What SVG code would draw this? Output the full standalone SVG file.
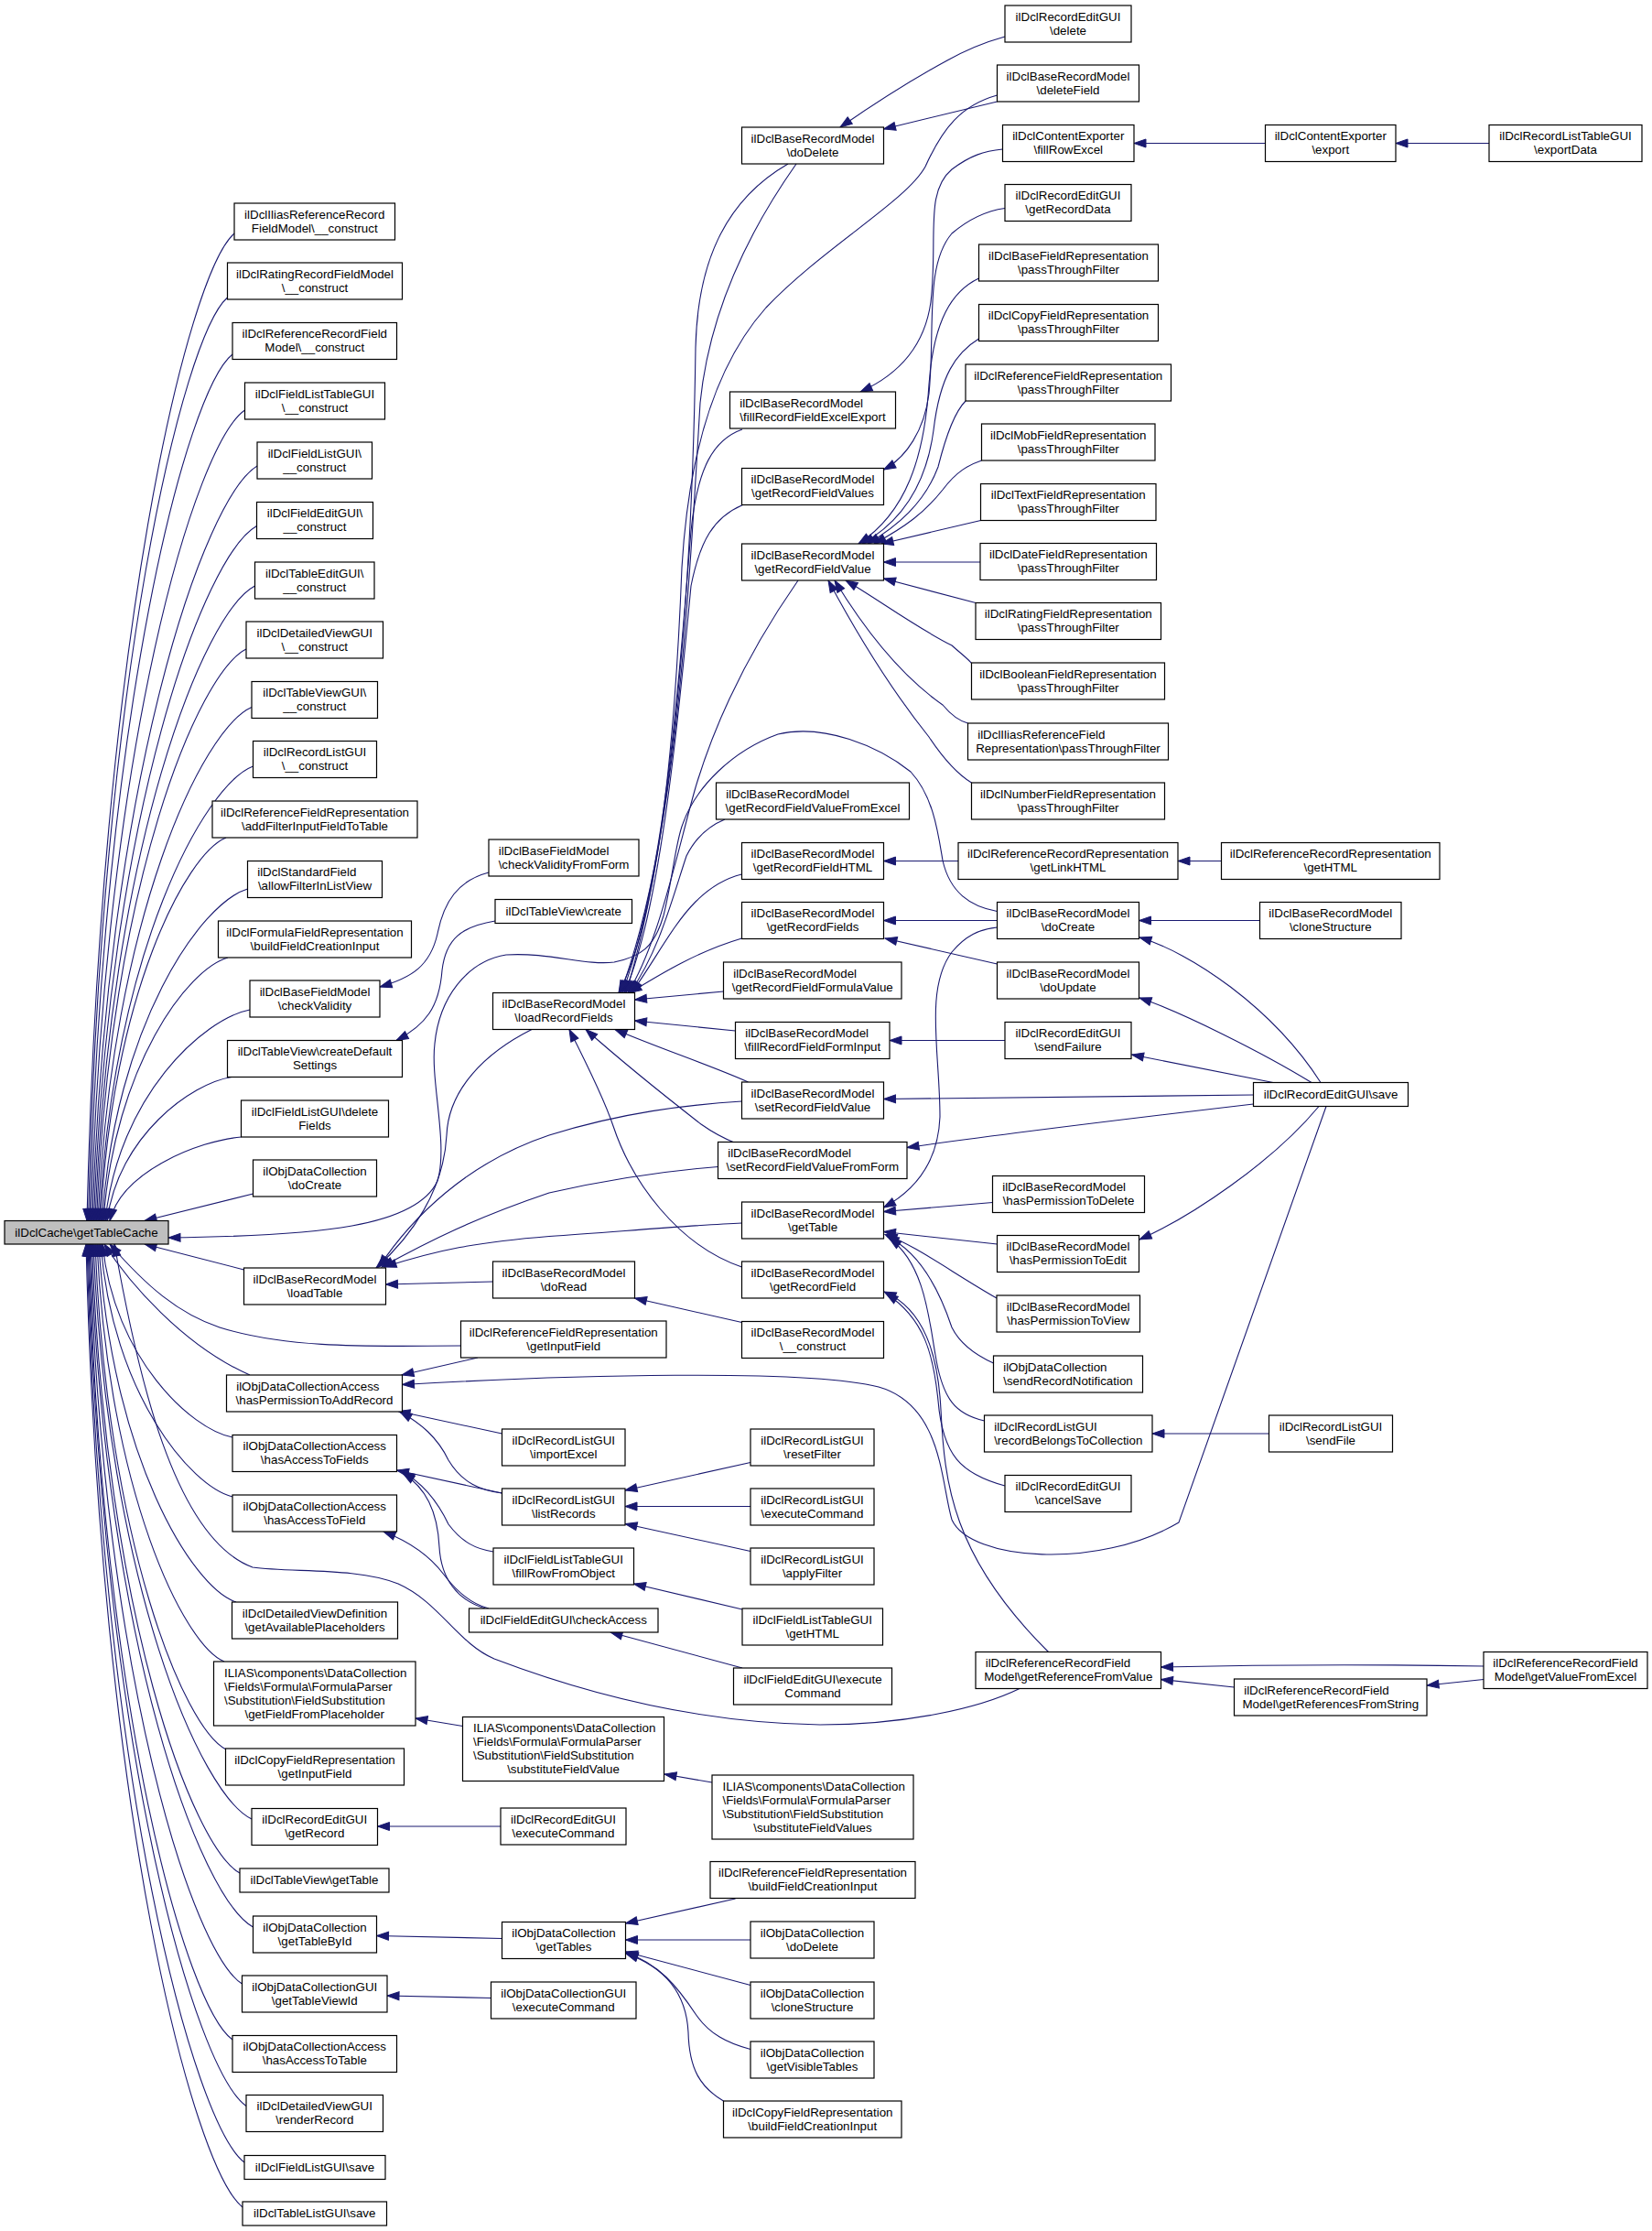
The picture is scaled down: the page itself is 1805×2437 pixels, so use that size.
<svg xmlns="http://www.w3.org/2000/svg" width="1805" height="2437" viewBox="0 0 1805 2437">
<style>
.n rect{fill:#fff;stroke:#000;stroke-width:1.2}
#root rect{fill:#bfbfbf}
text{font-family:"Liberation Sans",Arial,Helvetica,sans-serif;font-size:13.33px;fill:#000}
.m{text-anchor:middle}
.e path{fill:none;stroke:#191970;stroke-width:1.1;marker-start:url(#a)}
</style>
<defs>
<marker id="a" markerUnits="userSpaceOnUse" markerWidth="13" markerHeight="9" viewBox="0 0 13 9" refX="13" refY="4.5" orient="auto-start-reverse" overflow="visible"><path d="M0,0L13,4.5L0,9z" fill="#191970" stroke="#191970" stroke-width="1"/></marker>
</defs>
<rect width="1805" height="2437" fill="#fff"/>
<g id="edges" class="e">
<path d="M95,1333.5 C109.5,697.2 204.5,300.3 256,255"/>
<path d="M96.5,1333.5 C110.2,738.5 199.9,367.4 248.5,325"/>
<path d="M98,1333.5 C112,775.1 204.1,426.8 254,387"/>
<path d="M99.5,1333.5 C114.6,811.1 213.7,485.2 267.5,448"/>
<path d="M101,1333.5 C117.2,847 223.4,543.6 281,509"/>
<path d="M102.5,1333.5 C118.5,885.7 223.5,606.4 280.5,574.5"/>
<path d="M104,1333.5 C119.7,924.3 222.7,669.1 278.5,640"/>
<path d="M105.5,1333.5 C120.2,965 216.7,735.2 269,709"/>
<path d="M107,1333.5 C122.1,1002.5 221.2,796.1 275,772.5"/>
<path d="M108.5,1333.5 C123.6,1040.6 222.7,857.9 276.5,837"/>
<path d="M110,1333.5 C122.3,1086.6 203.2,932.6 247,915"/>
<path d="M111.5,1333.5 C125.8,1119.6 219.6,986.2 270.5,971"/>
<path d="M113,1333.5 C125.2,1163.9 205.5,1058.1 249,1046"/>
<path d="M115,1333.5 C129.2,1197.5 222.4,1112.7 273,1103"/>
<path d="M117,1333.5 C129.2,1240.9 209.5,1183.1 253,1176.5"/>
<path d="M120,1333.5 C132.9,1279.5 217.6,1245.8 263.5,1242"/>
<path d="M158,1333.5 L276.5,1304"/>
<path d="M158,1359 L266.5,1387"/>
<path d="M114,1359 C140,1400 200,1470 273,1502"/>
<path d="M120,1359 C160,1405 195,1435 240,1450 C320,1475 420,1470 503.5,1470"/>
<path d="M112,1359 C124.8,1483.7 208.6,1561.2 254,1570"/>
<path d="M110,1359 C123,1522.1 207.9,1623.4 254,1635"/>
<path d="M108,1359 C121.5,1590.5 210,1734.6 258,1750"/>
<path d="M106,1359 C118.5,1628.8 200.5,1796.8 245,1815"/>
<path d="M104,1359 C116.9,1684.9 201.2,1887.8 247,1911"/>
<path d="M102,1359 C117.6,1729.7 219.6,1960.6 275,1987"/>
<path d="M100.5,1359 C115,1764.5 210.3,2017.2 262,2046"/>
<path d="M99,1359 C115,1799.3 219.7,2073.7 276.5,2105"/>
<path d="M98,1359 C113,1835.9 211.2,2133.1 264.5,2167"/>
<path d="M97,1359 C111.1,1871.9 203.8,2191.5 254,2228"/>
<path d="M96,1359 C111.6,1914.7 213.6,2261 269,2300.5"/>
<path d="M95,1359 C110.5,1951 212,2319.9 267,2362"/>
<path d="M94,1359 C109.4,1979.9 210.3,2366.8 265,2411"/>
<path d="M125,1359 C150,1500 190,1680 276,1712 C320,1718 390,1712 435,1730 C480,1750 500,1795 540,1812 C640,1850 760,1882 896,1884 C990,1884 1070,1866 1114,1844.5"/>
<path d="M184,1352 C350,1350 455,1340 478,1290 C490,1250 470,1180 475,1140 C480,1090 510,1050 553,1043 C600,1040 640,1055 671,1051 C700,1045 715,1035 725,1000 C735,960 738,920 746,900 C760,860 800,820 850,802 C900,790 960,815 995,843 C1020,870 1025,910 1030,940 C1038,975 1060,990 1089.5,995.5"/>
<path d="M415,1078 C450,1068 470,1055 478,1020 C485,985 500,962 534,953"/>
<path d="M433,1136.5 C465,1120 480,1100 483,1060 C487,1025 505,1012 541,1006"/>
<path d="M420,1384 C480,1365 520,1357 600,1350.5 C680,1345 760,1338 810.5,1336"/>
<path d="M417,1384 C470,1355 520,1330 600,1303 C680,1285 740,1278 784.5,1274.5"/>
<path d="M414,1384 C450,1330 510,1270 600,1240 C680,1215 750,1207 810.5,1203"/>
<path d="M411,1385 C450,1350 485,1300 488,1240 C490,1190 530,1150 581,1124.5"/>
<path d="M421.5,1403 L538.5,1400"/>
<path d="M693.5,1418 L810.5,1444.5"/>
<path d="M439,1502 L522,1483"/>
<path d="M435,1541.5 L548.5,1566"/>
<path d="M437,1542 C460,1555 478,1570 490,1595 C505,1620 525,1628 548.5,1631"/>
<path d="M439.5,1512.5 C620,1502 880,1495 960,1515 C1030,1535 1028,1620 1040,1660 C1060,1705 1200,1715 1288,1663 L1449,1208.5"/>
<path d="M433.5,1606 L548.5,1631"/>
<path d="M440,1608 C462,1620 478,1640 490,1665 C505,1685 520,1692 539,1695"/>
<path d="M440,1609 C465,1625 478,1650 480,1690 C482,1725 500,1748 530,1757"/>
<path d="M419,1673 C450,1685 470,1700 485,1720 C500,1740 515,1752 534,1757"/>
<path d="M454,1877 L505.5,1885.5"/>
<path d="M726,1938 L778,1947"/>
<path d="M412.5,1995 L547,1995"/>
<path d="M411.5,2114.5 L548.5,2117.5"/>
<path d="M423,2180 L536.5,2182.5"/>
<path d="M683.5,2101 L803.5,2074"/>
<path d="M683.5,2119 L820,2119"/>
<path d="M683.5,2132 L820,2168.5"/>
<path d="M684,2133 C720,2145 740,2170 760,2200 C775,2222 795,2232 820,2238.5"/>
<path d="M684,2134 C730,2150 750,2180 752,2220 C753,2260 765,2280 790.5,2295"/>
<path d="M683,1628 L820,1597.5"/>
<path d="M683,1645.5 L820,1645.5"/>
<path d="M683,1664.5 L820,1694.5"/>
<path d="M692.5,1730 L811,1758"/>
<path d="M667,1783 L811,1822"/>
<path d="M688,1084.5 C720,1065 760,1040 810.5,1025"/>
<path d="M693.5,1092 L790.5,1083"/>
<path d="M693.5,1115 L803.5,1126"/>
<path d="M672,1124.5 C720,1145 780,1165 817.5,1182"/>
<path d="M640,1124.5 C680,1160 730,1200 766,1228 C780,1238 792,1244 805.5,1249.5"/>
<path d="M622,1124.5 C640,1160 660,1200 670,1230 C690,1290 740,1360 810.5,1384"/>
<path d="M690,1084.5 C715,1050 735,1010 760,985 C775,970 790,960 810.5,955"/>
<path d="M688,1084.5 C720,1040 735,980 750,935 C760,915 775,902 792,895"/>
<path d="M686,1084.5 C720,1030 740,930 760,860 C790,760 840,680 872,634"/>
<path d="M682,1084.5 C720,1000 740,800 755,640 C765,590 780,565 811.5,551.5"/>
<path d="M680,1084.5 C730,950 745,700 755,580 C762,510 780,480 811,469"/>
<path d="M684,1084.5 C740,900 757,600 760,380 C762,290 790,220 861,179"/>
<path d="M678,1084.5 C735,930 750,700 765,440 C775,340 820,250 870,179"/>
<path d="M676,1084.5 C720,1000 738,800 745,620 C752,500 780,400 837,336 C900,270 990,220 1011,182 C1030,140 1050,115 1089.5,104"/>
<path d="M918,139 C960,110 1000,85 1035,66 C1060,52 1080,45 1098,40"/>
<path d="M965.5,141 L1089.5,111"/>
<path d="M940,428 C980,410 1010,380 1017,330 C1025,260 1010,210 1040,185 C1060,170 1075,165 1095.5,163"/>
<path d="M965.5,513 C990,500 1010,470 1015,430 C1022,360 1010,290 1040,255 C1060,238 1080,230 1098,227.5"/>
<path d="M938,594 C990,560 1010,500 1015,420 C1020,350 1040,318 1069.5,304"/>
<path d="M942,594 C985,570 1012,530 1020,470 C1027,410 1045,385 1069.5,370"/>
<path d="M948,594 C980,575 1010,550 1025,510 C1035,470 1045,448 1055,438"/>
<path d="M955,594 C990,575 1010,560 1030,535 C1045,515 1058,508 1072.5,503"/>
<path d="M963,594 L1071.5,568.5"/>
<path d="M965.5,614 L1071,614"/>
<path d="M965.5,632 L1066,658.5"/>
<path d="M924,634 C960,655 1000,685 1040,705 C1050,714 1058,720 1061.5,724.5"/>
<path d="M912,634 C940,680 980,735 1030,770 C1040,782 1050,788 1057.5,790"/>
<path d="M905,634 C935,690 975,755 1015,805 C1035,835 1050,848 1061.5,855"/>
<path d="M1239,156.5 L1382.5,156.5"/>
<path d="M1525,156.5 L1627,156.5"/>
<path d="M965.5,940.5 L1047,940.5"/>
<path d="M1287,940.5 L1334.5,940.5"/>
<path d="M965.5,1005.5 L1089.5,1005.5"/>
<path d="M1244.5,1005.5 L1376.5,1005.5"/>
<path d="M967,1025 L1089.5,1053"/>
<path d="M972,1136.5 L1098,1136.5"/>
<path d="M1236.5,1152 L1391,1182.5"/>
<path d="M1245,1090 C1290,1105 1380,1150 1433,1182.5"/>
<path d="M1245,1024 C1300,1040 1390,1100 1443,1182.5"/>
<path d="M965.5,1200.5 L1369.5,1196"/>
<path d="M991,1253.5 C1100,1238 1250,1220 1369.5,1206"/>
<path d="M1245,1354 C1300,1330 1390,1270 1441,1208.5"/>
<path d="M965.5,1319 C1000,1300 1025,1270 1027,1220 C1027,1150 1010,1080 1040,1040 C1055,1022 1070,1015 1089.5,1013"/>
<path d="M965.5,1323.5 L1084.5,1313.5"/>
<path d="M965.5,1345.5 L1089.5,1359"/>
<path d="M967,1348.5 C1000,1360 1040,1390 1089,1418"/>
<path d="M969,1350.5 C1010,1370 1030,1420 1040,1450 C1050,1470 1070,1482 1085.5,1489"/>
<path d="M971.5,1352.5 C1010,1380 1015,1440 1022,1480 C1030,1530 1045,1545 1075.5,1552"/>
<path d="M968,1413 C1010,1440 1020,1480 1025,1530 C1030,1590 1050,1610 1098,1623"/>
<path d="M966,1411 C1010,1430 1025,1480 1028,1540 C1032,1620 1040,1700 1145.5,1804.5"/>
<path d="M1259,1566 L1386.5,1566"/>
<path d="M1268.5,1821 C1400,1818 1500,1818 1621,1820"/>
<path d="M1559,1841 L1621,1834.5"/>
<path d="M1268.5,1834.5 L1348.5,1843"/>
</g>
<g id="root" class="n"><rect x="5" y="1333.5" width="179" height="25.5"/><text class="m" x="94.5" y="1350.5">ilDclCache\getTableCache</text></g>
<g id="n1" class="n"><rect x="256" y="222" width="175.5" height="40"/><text class="m" x="343.75" y="238.5">ilDclIliasReferenceRecord</text><text class="m" x="343.75" y="253.5">FieldModel\__construct</text></g>
<g id="n2" class="n"><rect x="248.5" y="287" width="191" height="40"/><text class="m" x="344" y="303.5">ilDclRatingRecordFieldModel</text><text class="m" x="344" y="318.5">\__construct</text></g>
<g id="n3" class="n"><rect x="254" y="352.5" width="179.5" height="40"/><text class="m" x="343.75" y="369">ilDclReferenceRecordField</text><text class="m" x="343.75" y="384">Model\__construct</text></g>
<g id="n4" class="n"><rect x="267.5" y="418" width="153" height="40"/><text class="m" x="344" y="434.5">ilDclFieldListTableGUI</text><text class="m" x="344" y="449.5">\__construct</text></g>
<g id="n5" class="n"><rect x="281" y="483" width="125.5" height="40"/><text class="m" x="343.75" y="499.5">ilDclFieldListGUI\</text><text class="m" x="343.75" y="514.5">__construct</text></g>
<g id="n6" class="n"><rect x="280.5" y="548.5" width="127" height="40"/><text class="m" x="344" y="565">ilDclFieldEditGUI\</text><text class="m" x="344" y="580">__construct</text></g>
<g id="n7" class="n"><rect x="278.5" y="614" width="130.5" height="40"/><text class="m" x="343.75" y="630.5">ilDclTableEditGUI\</text><text class="m" x="343.75" y="645.5">__construct</text></g>
<g id="n8" class="n"><rect x="269" y="679" width="149.5" height="40"/><text class="m" x="343.75" y="695.5">ilDclDetailedViewGUI</text><text class="m" x="343.75" y="710.5">\__construct</text></g>
<g id="n9" class="n"><rect x="275" y="744.5" width="137.5" height="40"/><text class="m" x="343.75" y="761">ilDclTableViewGUI\</text><text class="m" x="343.75" y="776">__construct</text></g>
<g id="n10" class="n"><rect x="276.5" y="809.5" width="135" height="40"/><text class="m" x="344" y="826">ilDclRecordListGUI</text><text class="m" x="344" y="841">\__construct</text></g>
<g id="n11" class="n"><rect x="232" y="875" width="224" height="40"/><text class="m" x="344" y="891.5">ilDclReferenceFieldRepresentation</text><text class="m" x="344" y="906.5">\addFilterInputFieldToTable</text></g>
<g id="n12" class="n"><rect x="270.5" y="940.5" width="147" height="40"/><text x="281.2" y="957">ilDclStandardField</text><text class="m" x="344" y="972">\allowFilterInListView</text></g>
<g id="n13" class="n"><rect x="238.5" y="1006" width="211" height="40"/><text class="m" x="344" y="1022.5">ilDclFormulaFieldRepresentation</text><text class="m" x="344" y="1037.5">\buildFieldCreationInput</text></g>
<g id="n14" class="n"><rect x="273" y="1071" width="142" height="40"/><text class="m" x="344" y="1087.5">ilDclBaseFieldModel</text><text class="m" x="344" y="1102.5">\checkValidity</text></g>
<g id="n15" class="n"><rect x="248.5" y="1136.5" width="191" height="40"/><text class="m" x="344" y="1153">ilDclTableView\createDefault</text><text class="m" x="344" y="1168">Settings</text></g>
<g id="n16" class="n"><rect x="263.5" y="1202" width="161" height="40"/><text class="m" x="344" y="1218.5">ilDclFieldListGUI\delete</text><text class="m" x="344" y="1233.5">Fields</text></g>
<g id="n17" class="n"><rect x="276.5" y="1267" width="135" height="40"/><text class="m" x="344" y="1283.5">ilObjDataCollection</text><text class="m" x="344" y="1298.5">\doCreate</text></g>
<g id="n18" class="n"><rect x="266.5" y="1385" width="155" height="40"/><text class="m" x="344" y="1401.5">ilDclBaseRecordModel</text><text class="m" x="344" y="1416.5">\loadTable</text></g>
<g id="n19" class="n"><rect x="247.5" y="1502" width="192" height="40"/><text x="258.2" y="1518.5">ilObjDataCollectionAccess</text><text class="m" x="343.5" y="1533.5">\hasPermissionToAddRecord</text></g>
<g id="n20" class="n"><rect x="254" y="1567.5" width="179.5" height="40"/><text class="m" x="343.75" y="1584">ilObjDataCollectionAccess</text><text class="m" x="343.75" y="1599">\hasAccessToFields</text></g>
<g id="n21" class="n"><rect x="254" y="1633" width="179.5" height="40"/><text class="m" x="343.75" y="1649.5">ilObjDataCollectionAccess</text><text class="m" x="343.75" y="1664.5">\hasAccessToField</text></g>
<g id="n22" class="n"><rect x="253.5" y="1750" width="181" height="40"/><text class="m" x="344" y="1766.5">ilDclDetailedViewDefinition</text><text class="m" x="344" y="1781.5">\getAvailablePlaceholders</text></g>
<g id="n23" class="n"><rect x="233.5" y="1815" width="220.5" height="70"/><text x="245" y="1831.5">ILIAS\components\DataCollection</text><text x="245" y="1846.5">\Fields\Formula\FormulaParser</text><text x="245" y="1861.5">\Substitution\FieldSubstitution</text><text class="m" x="343.75" y="1876.5">\getFieldFromPlaceholder</text></g>
<g id="n24" class="n"><rect x="246.5" y="1910" width="195" height="40"/><text class="m" x="344" y="1926.5">ilDclCopyFieldRepresentation</text><text class="m" x="344" y="1941.5">\getInputField</text></g>
<g id="n25" class="n"><rect x="275" y="1975.5" width="137.5" height="40"/><text class="m" x="343.75" y="1992">ilDclRecordEditGUI</text><text class="m" x="343.75" y="2007">\getRecord</text></g>
<g id="n26" class="n"><rect x="262" y="2041" width="163" height="26"/><text class="m" x="343.5" y="2058">ilDclTableView\getTable</text></g>
<g id="n27" class="n"><rect x="276.5" y="2093" width="135" height="40"/><text class="m" x="344" y="2109.5">ilObjDataCollection</text><text class="m" x="344" y="2124.5">\getTableById</text></g>
<g id="n28" class="n"><rect x="264.5" y="2158" width="158.5" height="40"/><text class="m" x="343.75" y="2174.5">ilObjDataCollectionGUI</text><text class="m" x="343.75" y="2189.5">\getTableViewId</text></g>
<g id="n29" class="n"><rect x="254" y="2223.5" width="179.5" height="40"/><text class="m" x="343.75" y="2240">ilObjDataCollectionAccess</text><text class="m" x="343.75" y="2255">\hasAccessToTable</text></g>
<g id="n30" class="n"><rect x="269" y="2288.5" width="149.5" height="40"/><text class="m" x="343.75" y="2305">ilDclDetailedViewGUI</text><text class="m" x="343.75" y="2320">\renderRecord</text></g>
<g id="n31" class="n"><rect x="267" y="2354.5" width="154" height="26"/><text class="m" x="344" y="2371.5">ilDclFieldListGUI\save</text></g>
<g id="n32" class="n"><rect x="265" y="2405" width="157.5" height="26"/><text class="m" x="343.75" y="2422">ilDclTableListGUI\save</text></g>
<g id="c1" class="n"><rect x="534" y="917" width="164" height="40"/><text x="544.7" y="933.5">ilDclBaseFieldModel</text><text class="m" x="616" y="948.5">\checkValidityFromForm</text></g>
<g id="c2" class="n"><rect x="541" y="982.5" width="149.5" height="26"/><text class="m" x="615.75" y="999.5">ilDclTableView\create</text></g>
<g id="c3" class="n"><rect x="538.5" y="1084.5" width="155" height="40"/><text class="m" x="616" y="1101">ilDclBaseRecordModel</text><text class="m" x="616" y="1116">\loadRecordFields</text></g>
<g id="c4" class="n"><rect x="538.5" y="1378" width="155" height="40"/><text class="m" x="616" y="1394.5">ilDclBaseRecordModel</text><text class="m" x="616" y="1409.5">\doRead</text></g>
<g id="c5" class="n"><rect x="503.5" y="1443" width="224.5" height="40"/><text class="m" x="615.75" y="1459.5">ilDclReferenceFieldRepresentation</text><text class="m" x="615.75" y="1474.5">\getInputField</text></g>
<g id="c6" class="n"><rect x="548.5" y="1561" width="134.5" height="40"/><text class="m" x="615.75" y="1577.5">ilDclRecordListGUI</text><text class="m" x="615.75" y="1592.5">\importExcel</text></g>
<g id="c7" class="n"><rect x="548.5" y="1626" width="134.5" height="40"/><text class="m" x="615.75" y="1642.5">ilDclRecordListGUI</text><text class="m" x="615.75" y="1657.5">\listRecords</text></g>
<g id="c8" class="n"><rect x="539" y="1691" width="153.5" height="40"/><text class="m" x="615.75" y="1707.5">ilDclFieldListTableGUI</text><text class="m" x="615.75" y="1722.5">\fillRowFromObject</text></g>
<g id="c9" class="n"><rect x="512.5" y="1757" width="206.5" height="26"/><text class="m" x="615.75" y="1774">ilDclFieldEditGUI\checkAccess</text></g>
<g id="c10" class="n"><rect x="505.5" y="1875.5" width="220" height="70"/><text x="517" y="1892">ILIAS\components\DataCollection</text><text x="517" y="1907">\Fields\Formula\FormulaParser</text><text x="517" y="1922">\Substitution\FieldSubstitution</text><text class="m" x="615.5" y="1937">\substituteFieldValue</text></g>
<g id="c11" class="n"><rect x="547" y="1975" width="137" height="40"/><text class="m" x="615.5" y="1991.5">ilDclRecordEditGUI</text><text class="m" x="615.5" y="2006.5">\executeCommand</text></g>
<g id="c12" class="n"><rect x="548.5" y="2099.5" width="135" height="40"/><text class="m" x="616" y="2116">ilObjDataCollection</text><text class="m" x="616" y="2131">\getTables</text></g>
<g id="c13" class="n"><rect x="536.5" y="2165" width="158.5" height="40"/><text class="m" x="615.75" y="2181.5">ilObjDataCollectionGUI</text><text class="m" x="615.75" y="2196.5">\executeCommand</text></g>
<g id="d1" class="n"><rect x="810.5" y="139" width="155" height="40"/><text class="m" x="888" y="155.5">ilDclBaseRecordModel</text><text class="m" x="888" y="170.5">\doDelete</text></g>
<g id="d2" class="n"><rect x="797.5" y="428" width="181" height="40"/><text x="808.2" y="444.5">ilDclBaseRecordModel</text><text class="m" x="888" y="459.5">\fillRecordFieldExcelExport</text></g>
<g id="d3" class="n"><rect x="810.5" y="511.5" width="155" height="40"/><text class="m" x="888" y="528">ilDclBaseRecordModel</text><text class="m" x="888" y="543">\getRecordFieldValues</text></g>
<g id="d4" class="n"><rect x="810.5" y="594" width="155" height="40"/><text class="m" x="888" y="610.5">ilDclBaseRecordModel</text><text class="m" x="888" y="625.5">\getRecordFieldValue</text></g>
<g id="d5" class="n"><rect x="782.5" y="855" width="211" height="40"/><text x="793.2" y="871.5">ilDclBaseRecordModel</text><text class="m" x="888" y="886.5">\getRecordFieldValueFromExcel</text></g>
<g id="d6" class="n"><rect x="810.5" y="920.5" width="155" height="40"/><text class="m" x="888" y="937">ilDclBaseRecordModel</text><text class="m" x="888" y="952">\getRecordFieldHTML</text></g>
<g id="d7" class="n"><rect x="810.5" y="985.5" width="155" height="40"/><text class="m" x="888" y="1002">ilDclBaseRecordModel</text><text class="m" x="888" y="1017">\getRecordFields</text></g>
<g id="d8" class="n"><rect x="790.5" y="1051" width="194.5" height="40"/><text x="801.2" y="1067.5">ilDclBaseRecordModel</text><text class="m" x="887.75" y="1082.5">\getRecordFieldFormulaValue</text></g>
<g id="d9" class="n"><rect x="803.5" y="1116.5" width="168.5" height="40"/><text x="814.2" y="1133">ilDclBaseRecordModel</text><text class="m" x="887.75" y="1148">\fillRecordFieldFormInput</text></g>
<g id="d10" class="n"><rect x="810.5" y="1182" width="155" height="40"/><text class="m" x="888" y="1198.5">ilDclBaseRecordModel</text><text class="m" x="888" y="1213.5">\setRecordFieldValue</text></g>
<g id="d11" class="n"><rect x="784.5" y="1247.5" width="206.5" height="40"/><text x="795.2" y="1264">ilDclBaseRecordModel</text><text class="m" x="887.75" y="1279">\setRecordFieldValueFromForm</text></g>
<g id="d12" class="n"><rect x="810.5" y="1313" width="155" height="40"/><text class="m" x="888" y="1329.5">ilDclBaseRecordModel</text><text class="m" x="888" y="1344.5">\getTable</text></g>
<g id="d13" class="n"><rect x="810.5" y="1378" width="155" height="40"/><text class="m" x="888" y="1394.5">ilDclBaseRecordModel</text><text class="m" x="888" y="1409.5">\getRecordField</text></g>
<g id="d14" class="n"><rect x="810.5" y="1443.5" width="155" height="40"/><text class="m" x="888" y="1460">ilDclBaseRecordModel</text><text class="m" x="888" y="1475">\__construct</text></g>
<g id="d15" class="n"><rect x="820" y="1561" width="135" height="40"/><text class="m" x="887.5" y="1577.5">ilDclRecordListGUI</text><text class="m" x="887.5" y="1592.5">\resetFilter</text></g>
<g id="d16" class="n"><rect x="820" y="1626" width="135" height="40"/><text class="m" x="887.5" y="1642.5">ilDclRecordListGUI</text><text class="m" x="887.5" y="1657.5">\executeCommand</text></g>
<g id="d17" class="n"><rect x="820" y="1691" width="135" height="40"/><text class="m" x="887.5" y="1707.5">ilDclRecordListGUI</text><text class="m" x="887.5" y="1722.5">\applyFilter</text></g>
<g id="d18" class="n"><rect x="811" y="1757" width="153.5" height="40"/><text class="m" x="887.75" y="1773.5">ilDclFieldListTableGUI</text><text class="m" x="887.75" y="1788.5">\getHTML</text></g>
<g id="d19" class="n"><rect x="801.5" y="1822" width="173" height="40"/><text class="m" x="888" y="1838.5">ilDclFieldEditGUI\execute</text><text class="m" x="888" y="1853.5">Command</text></g>
<g id="d20" class="n"><rect x="778" y="1939" width="220" height="70"/><text x="789.5" y="1955.5">ILIAS\components\DataCollection</text><text x="789.5" y="1970.5">\Fields\Formula\FormulaParser</text><text x="789.5" y="1985.5">\Substitution\FieldSubstitution</text><text class="m" x="888" y="2000.5">\substituteFieldValues</text></g>
<g id="d21" class="n"><rect x="776" y="2033.5" width="224" height="40"/><text class="m" x="888" y="2050">ilDclReferenceFieldRepresentation</text><text class="m" x="888" y="2065">\buildFieldCreationInput</text></g>
<g id="d22" class="n"><rect x="820" y="2099" width="135" height="40"/><text class="m" x="887.5" y="2115.5">ilObjDataCollection</text><text class="m" x="887.5" y="2130.5">\doDelete</text></g>
<g id="d23" class="n"><rect x="820" y="2165" width="135" height="40"/><text class="m" x="887.5" y="2181.5">ilObjDataCollection</text><text class="m" x="887.5" y="2196.5">\cloneStructure</text></g>
<g id="d24" class="n"><rect x="820" y="2230" width="135" height="40"/><text class="m" x="887.5" y="2246.5">ilObjDataCollection</text><text class="m" x="887.5" y="2261.5">\getVisibleTables</text></g>
<g id="d25" class="n"><rect x="790.5" y="2295" width="194.5" height="40"/><text class="m" x="887.75" y="2311.5">ilDclCopyFieldRepresentation</text><text class="m" x="887.75" y="2326.5">\buildFieldCreationInput</text></g>
<g id="e1" class="n"><rect x="1098" y="6" width="138" height="40"/><text class="m" x="1167" y="22.5">ilDclRecordEditGUI</text><text class="m" x="1167" y="37.5">\delete</text></g>
<g id="e2" class="n"><rect x="1089.5" y="71" width="155" height="40"/><text class="m" x="1167" y="87.5">ilDclBaseRecordModel</text><text class="m" x="1167" y="102.5">\deleteField</text></g>
<g id="e3" class="n"><rect x="1095.5" y="136.5" width="143.5" height="40"/><text class="m" x="1167.25" y="153">ilDclContentExporter</text><text class="m" x="1167.25" y="168">\fillRowExcel</text></g>
<g id="e4" class="n"><rect x="1098" y="201.5" width="138" height="40"/><text class="m" x="1167" y="218">ilDclRecordEditGUI</text><text class="m" x="1167" y="233">\getRecordData</text></g>
<g id="e5" class="n"><rect x="1069.5" y="267" width="196" height="40"/><text class="m" x="1167.5" y="283.5">ilDclBaseFieldRepresentation</text><text class="m" x="1167.5" y="298.5">\passThroughFilter</text></g>
<g id="e6" class="n"><rect x="1069.5" y="332.5" width="196" height="40"/><text class="m" x="1167.5" y="349">ilDclCopyFieldRepresentation</text><text class="m" x="1167.5" y="364">\passThroughFilter</text></g>
<g id="e7" class="n"><rect x="1055" y="398" width="224.5" height="40"/><text class="m" x="1167.25" y="414.5">ilDclReferenceFieldRepresentation</text><text class="m" x="1167.25" y="429.5">\passThroughFilter</text></g>
<g id="e8" class="n"><rect x="1072.5" y="463" width="189.5" height="40"/><text class="m" x="1167.25" y="479.5">ilDclMobFieldRepresentation</text><text class="m" x="1167.25" y="494.5">\passThroughFilter</text></g>
<g id="e9" class="n"><rect x="1071.5" y="528.5" width="191.5" height="40"/><text class="m" x="1167.25" y="545">ilDclTextFieldRepresentation</text><text class="m" x="1167.25" y="560">\passThroughFilter</text></g>
<g id="e10" class="n"><rect x="1071" y="593.5" width="192.5" height="40"/><text class="m" x="1167.25" y="610">ilDclDateFieldRepresentation</text><text class="m" x="1167.25" y="625">\passThroughFilter</text></g>
<g id="e11" class="n"><rect x="1066" y="658.5" width="202.5" height="40"/><text class="m" x="1167.25" y="675">ilDclRatingFieldRepresentation</text><text class="m" x="1167.25" y="690">\passThroughFilter</text></g>
<g id="e12" class="n"><rect x="1061.5" y="724" width="211" height="40"/><text class="m" x="1167" y="740.5">ilDclBooleanFieldRepresentation</text><text class="m" x="1167" y="755.5">\passThroughFilter</text></g>
<g id="e13" class="n"><rect x="1057.5" y="790" width="219" height="40"/><text x="1068.2" y="806.5">ilDclIliasReferenceField</text><text class="m" x="1167" y="821.5">Representation\passThroughFilter</text></g>
<g id="e14" class="n"><rect x="1061.5" y="855" width="211" height="40"/><text class="m" x="1167" y="871.5">ilDclNumberFieldRepresentation</text><text class="m" x="1167" y="886.5">\passThroughFilter</text></g>
<g id="e15" class="n"><rect x="1047" y="920.5" width="240" height="40"/><text class="m" x="1167" y="937">ilDclReferenceRecordRepresentation</text><text class="m" x="1167" y="952">\getLinkHTML</text></g>
<g id="e16" class="n"><rect x="1089.5" y="985.5" width="155" height="40"/><text class="m" x="1167" y="1002">ilDclBaseRecordModel</text><text class="m" x="1167" y="1017">\doCreate</text></g>
<g id="e17" class="n"><rect x="1089.5" y="1051" width="155" height="40"/><text class="m" x="1167" y="1067.5">ilDclBaseRecordModel</text><text class="m" x="1167" y="1082.5">\doUpdate</text></g>
<g id="e18" class="n"><rect x="1098" y="1116.5" width="138" height="40"/><text class="m" x="1167" y="1133">ilDclRecordEditGUI</text><text class="m" x="1167" y="1148">\sendFailure</text></g>
<g id="e19" class="n"><rect x="1084.5" y="1284.5" width="166" height="40"/><text x="1095.2" y="1301">ilDclBaseRecordModel</text><text class="m" x="1167.5" y="1316">\hasPermissionToDelete</text></g>
<g id="e20" class="n"><rect x="1089.5" y="1349.5" width="155" height="40"/><text class="m" x="1167" y="1366">ilDclBaseRecordModel</text><text class="m" x="1167" y="1381">\hasPermissionToEdit</text></g>
<g id="e21" class="n"><rect x="1089" y="1415" width="156.5" height="40"/><text x="1099.7" y="1431.5">ilDclBaseRecordModel</text><text class="m" x="1167.25" y="1446.5">\hasPermissionToView</text></g>
<g id="e22" class="n"><rect x="1085.5" y="1481" width="163" height="40"/><text x="1096.2" y="1497.5">ilObjDataCollection</text><text class="m" x="1167" y="1512.5">\sendRecordNotification</text></g>
<g id="e23" class="n"><rect x="1075.5" y="1546" width="183.5" height="40"/><text x="1086.2" y="1562.5">ilDclRecordListGUI</text><text class="m" x="1167.25" y="1577.5">\recordBelongsToCollection</text></g>
<g id="e24" class="n"><rect x="1098" y="1611.5" width="138" height="40"/><text class="m" x="1167" y="1628">ilDclRecordEditGUI</text><text class="m" x="1167" y="1643">\cancelSave</text></g>
<g id="e25" class="n"><rect x="1066" y="1804.5" width="202.5" height="40"/><text x="1076.7" y="1821">ilDclReferenceRecordField</text><text class="m" x="1167.25" y="1836">Model\getReferenceFromValue</text></g>
<g id="f1" class="n"><rect x="1382.5" y="136.5" width="142.5" height="40"/><text class="m" x="1453.75" y="153">ilDclContentExporter</text><text class="m" x="1453.75" y="168">\export</text></g>
<g id="f2" class="n"><rect x="1334.5" y="920.5" width="238.5" height="40"/><text class="m" x="1453.75" y="937">ilDclReferenceRecordRepresentation</text><text class="m" x="1453.75" y="952">\getHTML</text></g>
<g id="f3" class="n"><rect x="1376.5" y="985.5" width="154.5" height="40"/><text class="m" x="1453.75" y="1002">ilDclBaseRecordModel</text><text class="m" x="1453.75" y="1017">\cloneStructure</text></g>
<g id="f4" class="n"><rect x="1369.5" y="1182.5" width="169" height="26"/><text class="m" x="1454" y="1199.5">ilDclRecordEditGUI\save</text></g>
<g id="f5" class="n"><rect x="1386.5" y="1546" width="135" height="40"/><text class="m" x="1454" y="1562.5">ilDclRecordListGUI</text><text class="m" x="1454" y="1577.5">\sendFile</text></g>
<g id="f6" class="n"><rect x="1348.5" y="1834" width="210.5" height="40"/><text x="1359.2" y="1850.5">ilDclReferenceRecordField</text><text class="m" x="1453.75" y="1865.5">Model\getReferencesFromString</text></g>
<g id="g1" class="n"><rect x="1627" y="136.5" width="167" height="40"/><text class="m" x="1710.5" y="153">ilDclRecordListTableGUI</text><text class="m" x="1710.5" y="168">\exportData</text></g>
<g id="g2" class="n"><rect x="1621" y="1804.5" width="179" height="40"/><text class="m" x="1710.5" y="1821">ilDclReferenceRecordField</text><text class="m" x="1710.5" y="1836">Model\getValueFromExcel</text></g>
</svg>
